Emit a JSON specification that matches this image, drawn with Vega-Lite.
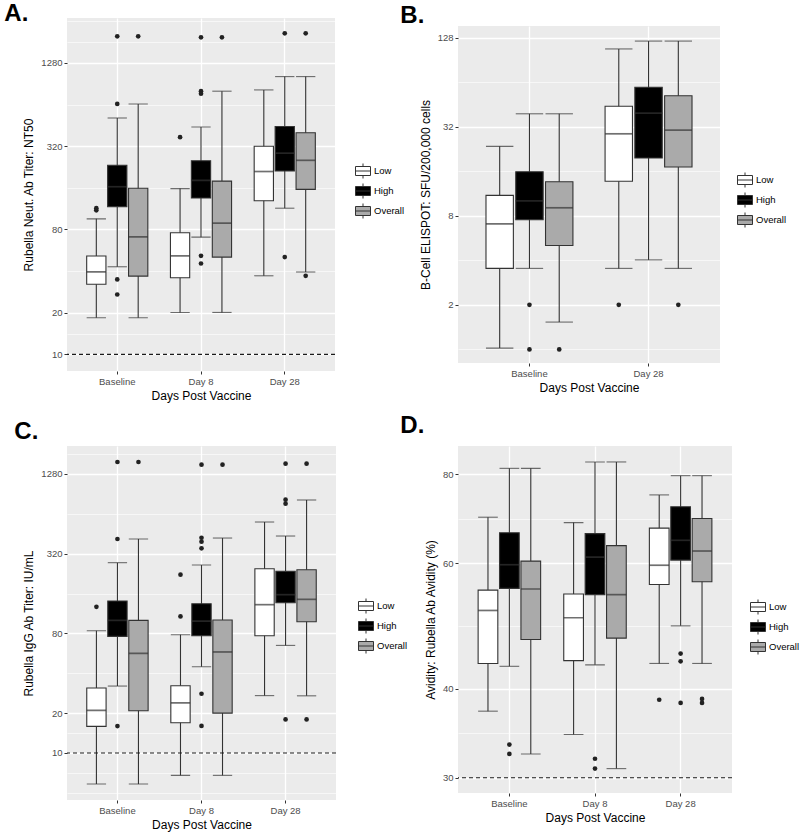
{
  "$schema": "https://vega.github.io/schema/vega-lite/v6.json",
  "background": "white",
  "padding": {"left": 4, "top": 2, "right": 5, "bottom": 3},
  "columns": 2,
  "bounds": "flush",
  "center": {"row": true, "column": false},
  "spacing": {"row": 75, "column": 122},
  "resolve": {
    "scale": {"fill": "independent", "y": "independent", "x": "independent", "xOffset": "independent"},
    "legend": {"fill": "independent"}
  },
  "datasets": {
    "aBox": [
      {"time": "Baseline", "group": "Low", "lo": 18.4, "q1": 32.1, "med": 39.5, "q3": 51.4, "hi": 95.5},
      {"time": "Baseline", "group": "High", "lo": 43, "q1": 117, "med": 163, "q3": 233, "hi": 512},
      {"time": "Baseline", "group": "Overall", "lo": 18.4, "q1": 36.8, "med": 70.8, "q3": 159, "hi": 647},
      {"time": "Day 8", "group": "Low", "lo": 20.1, "q1": 35.8, "med": 51.6, "q3": 75.7, "hi": 158},
      {"time": "Day 8", "group": "High", "lo": 70.4, "q1": 135, "med": 181, "q3": 251, "hi": 441},
      {"time": "Day 8", "group": "Overall", "lo": 20.1, "q1": 50.5, "med": 88.9, "q3": 179, "hi": 800},
      {"time": "Day 28", "group": "Low", "lo": 37, "q1": 129, "med": 210, "q3": 320, "hi": 817},
      {"time": "Day 28", "group": "High", "lo": 114, "q1": 212, "med": 285, "q3": 444, "hi": 1020},
      {"time": "Day 28", "group": "Overall", "lo": 39.4, "q1": 156, "med": 253, "q3": 400, "hi": 1020}
    ],
    "aOut": [
      {"time": "Baseline", "group": "Low", "v": 114},
      {"time": "Baseline", "group": "Low", "v": 110},
      {"time": "Baseline", "group": "High", "v": 1995},
      {"time": "Baseline", "group": "High", "v": 647},
      {"time": "Baseline", "group": "High", "v": 34.8},
      {"time": "Baseline", "group": "High", "v": 27.1},
      {"time": "Baseline", "group": "Overall", "v": 1995},
      {"time": "Day 8", "group": "Low", "v": 372},
      {"time": "Day 8", "group": "High", "v": 1961},
      {"time": "Day 8", "group": "High", "v": 800},
      {"time": "Day 8", "group": "High", "v": 768},
      {"time": "Day 8", "group": "High", "v": 51.6},
      {"time": "Day 8", "group": "High", "v": 45.4},
      {"time": "Day 8", "group": "Overall", "v": 1961},
      {"time": "Day 28", "group": "High", "v": 2097},
      {"time": "Day 28", "group": "High", "v": 50.5},
      {"time": "Day 28", "group": "Overall", "v": 2097},
      {"time": "Day 28", "group": "Overall", "v": 37}
    ],
    "bBox": [
      {"time": "Baseline", "group": "Low", "lo": 1.02, "q1": 3.53, "med": 7.07, "q3": 11.0, "hi": 23.6},
      {"time": "Baseline", "group": "High", "lo": 3.53, "q1": 7.52, "med": 10.1, "q3": 15.9, "hi": 39.2},
      {"time": "Baseline", "group": "Overall", "lo": 1.53, "q1": 5.04, "med": 9.07, "q3": 13.6, "hi": 39.2},
      {"time": "Day 28", "group": "Low", "lo": 3.53, "q1": 13.7, "med": 28.7, "q3": 44.1, "hi": 107.6},
      {"time": "Day 28", "group": "High", "lo": 4.03, "q1": 19.7, "med": 39.6, "q3": 59.3, "hi": 121.6},
      {"time": "Day 28", "group": "Overall", "lo": 3.53, "q1": 17.1, "med": 30.4, "q3": 51.9, "hi": 121.6}
    ],
    "bOut": [
      {"time": "Baseline", "group": "High", "v": 2},
      {"time": "Baseline", "group": "High", "v": 1},
      {"time": "Baseline", "group": "Overall", "v": 1},
      {"time": "Day 28", "group": "Low", "v": 2},
      {"time": "Day 28", "group": "Overall", "v": 2}
    ],
    "cBox": [
      {"time": "Baseline", "group": "Low", "lo": 5.82, "q1": 15.86, "med": 20.95, "q3": 30.9, "hi": 83.8},
      {"time": "Baseline", "group": "High", "lo": 32, "q1": 75.9, "med": 100.3, "q3": 140.5, "hi": 273.6},
      {"time": "Baseline", "group": "Overall", "lo": 5.82, "q1": 20.8, "med": 56.5, "q3": 100.3, "hi": 413},
      {"time": "Day 8", "group": "Low", "lo": 6.77, "q1": 16.9, "med": 23.9, "q3": 32.2, "hi": 78.2},
      {"time": "Day 8", "group": "High", "lo": 44.8, "q1": 76.8, "med": 99, "q3": 134, "hi": 262.6},
      {"time": "Day 8", "group": "Overall", "lo": 6.77, "q1": 20.0, "med": 57.9, "q3": 101, "hi": 420},
      {"time": "Day 28", "group": "Low", "lo": 27.1, "q1": 76.8, "med": 131.8, "q3": 246.4, "hi": 555},
      {"time": "Day 28", "group": "High", "lo": 64.9, "q1": 136.4, "med": 156.8, "q3": 235.3, "hi": 435},
      {"time": "Day 28", "group": "Overall", "lo": 27, "q1": 98, "med": 144.6, "q3": 242, "hi": 814}
    ],
    "cOut": [
      {"time": "Baseline", "group": "Low", "v": 127},
      {"time": "Baseline", "group": "High", "v": 1577},
      {"time": "Baseline", "group": "High", "v": 413},
      {"time": "Baseline", "group": "High", "v": 15.96},
      {"time": "Baseline", "group": "Overall", "v": 1577},
      {"time": "Day 8", "group": "Low", "v": 222},
      {"time": "Day 8", "group": "Low", "v": 107.5},
      {"time": "Day 8", "group": "High", "v": 1505},
      {"time": "Day 8", "group": "High", "v": 422},
      {"time": "Day 8", "group": "High", "v": 394},
      {"time": "Day 8", "group": "High", "v": 351},
      {"time": "Day 8", "group": "High", "v": 28},
      {"time": "Day 8", "group": "High", "v": 16},
      {"time": "Day 8", "group": "Overall", "v": 1505},
      {"time": "Day 28", "group": "High", "v": 1532},
      {"time": "Day 28", "group": "High", "v": 819},
      {"time": "Day 28", "group": "High", "v": 764},
      {"time": "Day 28", "group": "High", "v": 17.9},
      {"time": "Day 28", "group": "Overall", "v": 1532},
      {"time": "Day 28", "group": "Overall", "v": 17.9}
    ],
    "dBox": [
      {"time": "Baseline", "group": "Low", "lo": 37.2, "q1": 43.4, "med": 51.5, "q3": 55.0, "hi": 69.6},
      {"time": "Baseline", "group": "High", "lo": 43.0, "q1": 55.3, "med": 59.7, "q3": 66.2, "hi": 81.5},
      {"time": "Baseline", "group": "Overall", "lo": 32.4, "q1": 46.9, "med": 55.2, "q3": 60.4, "hi": 81.5},
      {"time": "Day 8", "group": "Low", "lo": 34.5, "q1": 43.8, "med": 50.3, "q3": 54.3, "hi": 68.4},
      {"time": "Day 8", "group": "High", "lo": 43.2, "q1": 54.2, "med": 61.2, "q3": 66.0, "hi": 83.2},
      {"time": "Day 8", "group": "Overall", "lo": 30.9, "q1": 47.1, "med": 54.2, "q3": 63.5, "hi": 83.2},
      {"time": "Day 28", "group": "Low", "lo": 43.4, "q1": 56.0, "med": 59.6, "q3": 67.2, "hi": 74.8},
      {"time": "Day 28", "group": "High", "lo": 49.0, "q1": 60.6, "med": 64.6, "q3": 72.0, "hi": 79.6},
      {"time": "Day 28", "group": "Overall", "lo": 43.4, "q1": 56.5, "med": 62.4, "q3": 69.3, "hi": 79.6}
    ],
    "dOut": [
      {"time": "Baseline", "group": "High", "v": 33.4},
      {"time": "Baseline", "group": "High", "v": 32.4},
      {"time": "Day 8", "group": "High", "v": 31.9},
      {"time": "Day 8", "group": "High", "v": 30.9},
      {"time": "Day 28", "group": "Low", "v": 38.6},
      {"time": "Day 28", "group": "High", "v": 44.8},
      {"time": "Day 28", "group": "High", "v": 43.7},
      {"time": "Day 28", "group": "High", "v": 38.2},
      {"time": "Day 28", "group": "Overall", "v": 38.7},
      {"time": "Day 28", "group": "Overall", "v": 38.2}
    ],
    "ref10": [{"ref": 10}],
    "ref30": [{"ref": 30}]
  },
  "concat": [
    {
      "width": 268, "height": 353,
      "title": {"text": "A.", "dx": -62.7, "dy": 13.7},
      "layer": [
        {"data": {"name": "aBox"}, "mark": {"type": "rule", "color": "#333333", "strokeWidth": 1.1},
         "encoding": {
           "x": {"field": "time", "type": "nominal", "sort": ["Baseline", "Day 8", "Day 28"], "scale": {"paddingInner": 0, "paddingOuter": 0.1},
                 "axis": {"title": "Days Post Vaccine", "labelAngle": 0, "bandPosition": 0.5, "grid": true, "gridWidth": 1.3, "gridColor": "white", "ticks": true}},
           "xOffset": {"field": "group", "type": "nominal", "sort": ["Low", "High", "Overall"], "scale": {"paddingInner": 0.08, "paddingOuter": 0.54}},
           "y": {"field": "lo", "type": "quantitative", "scale": {"type": "log", "base": 2, "domain": [7.58, 2706], "nice": false, "zero": false},
                 "axis": {"title": "Rubella Neut. Ab Titer: NT50", "values": [10, 14.142, 20, 40, 80, 160, 320, 640, 1280, 1810.2, 2560],
                          "labelExpr": "indexof([10,20,80,320,1280], datum.value) >= 0 ? format(datum.value, 'd') : ''",
                          "gridWidth": {"condition": {"test": "indexof([10,20,80,320,1280], datum.value) >= 0", "value": 1.3}, "value": 0.6},
                          "tickOpacity": {"condition": {"test": "indexof([10,20,80,320,1280], datum.value) >= 0", "value": 1}, "value": 0}}},
           "y2": {"field": "hi"}
         }},
        {"data": {"name": "aBox"}, "mark": {"type": "tick", "color": "#333333", "thickness": 1.1, "size": 19.3},
         "encoding": {
           "x": {"field": "time", "type": "nominal", "sort": ["Baseline", "Day 8", "Day 28"]},
           "xOffset": {"field": "group", "type": "nominal", "sort": ["Low", "High", "Overall"]},
           "y": {"field": "lo", "type": "quantitative", "scale": {"type": "log", "base": 2, "domain": [7.58, 2706], "nice": false, "zero": false}}
         }},
        {"data": {"name": "aBox"}, "mark": {"type": "tick", "color": "#333333", "thickness": 1.1, "size": 19.3},
         "encoding": {
           "x": {"field": "time", "type": "nominal", "sort": ["Baseline", "Day 8", "Day 28"]},
           "xOffset": {"field": "group", "type": "nominal", "sort": ["Low", "High", "Overall"]},
           "y": {"field": "hi", "type": "quantitative", "scale": {"type": "log", "base": 2, "domain": [7.58, 2706], "nice": false, "zero": false}}
         }},
        {"data": {"name": "aBox"}, "mark": {"type": "bar", "stroke": "#333333", "strokeWidth": 1.1},
         "encoding": {
           "x": {"field": "time", "type": "nominal", "sort": ["Baseline", "Day 8", "Day 28"]},
           "xOffset": {"field": "group", "type": "nominal", "sort": ["Low", "High", "Overall"]},
           "y": {"field": "q1", "type": "quantitative", "scale": {"type": "log", "base": 2, "domain": [7.58, 2706], "nice": false, "zero": false}},
           "y2": {"field": "q3"},
           "fill": {"field": "group", "type": "nominal", "scale": {"domain": ["Low", "High", "Overall"], "range": ["#FFFFFF", "#000000", "#AAAAAA"]},
                    "legend": {"orient": "none", "legendX": 288, "legendY": 145}}
         }},
        {"data": {"name": "aBox"}, "mark": {"type": "tick", "color": "#333333", "thickness": 1.7, "size": 19.3},
         "encoding": {
           "x": {"field": "time", "type": "nominal", "sort": ["Baseline", "Day 8", "Day 28"]},
           "xOffset": {"field": "group", "type": "nominal", "sort": ["Low", "High", "Overall"]},
           "y": {"field": "med", "type": "quantitative", "scale": {"type": "log", "base": 2, "domain": [7.58, 2706], "nice": false, "zero": false}}
         }},
        {"data": {"name": "aOut"}, "mark": {"type": "point", "filled": true, "color": "#222222", "size": 22, "opacity": 1},
         "encoding": {
           "x": {"field": "time", "type": "nominal", "sort": ["Baseline", "Day 8", "Day 28"]},
           "xOffset": {"field": "group", "type": "nominal", "sort": ["Low", "High", "Overall"]},
           "y": {"field": "v", "type": "quantitative", "scale": {"type": "log", "base": 2, "domain": [7.58, 2706], "nice": false, "zero": false}}
         }},
        {"data": {"name": "ref10"}, "mark": {"type": "rule", "color": "#1A1A1A", "strokeWidth": 1.1, "strokeDash": [4, 3]},
         "encoding": {
           "y": {"field": "ref", "type": "quantitative", "scale": {"type": "log", "base": 2, "domain": [7.58, 2706], "nice": false, "zero": false}}
         }}
      ]
    },
    {
      "width": 262, "height": 337,
      "title": {"text": "B.", "dx": -57.7, "dy": 5.7},
      "layer": [
        {"data": {"name": "bBox"}, "mark": {"type": "rule", "color": "#333333", "strokeWidth": 1.1},
         "encoding": {
           "x": {"field": "time", "type": "nominal", "sort": ["Baseline", "Day 28"], "scale": {"paddingInner": 0, "paddingOuter": 0.1},
                 "axis": {"title": "Days Post Vaccine", "labelAngle": 0, "bandPosition": 0.5, "grid": true, "gridWidth": 1.3, "gridColor": "white", "ticks": true}},
           "xOffset": {"field": "group", "type": "nominal", "sort": ["Low", "High", "Overall"], "scale": {"paddingInner": 0.08, "paddingOuter": 0.54}},
           "y": {"field": "lo", "type": "quantitative", "scale": {"type": "log", "base": 2, "domain": [0.809, 153.8], "nice": false, "zero": false},
                 "axis": {"title": "B-Cell ELISPOT: SFU/200,000 cells", "values": [1, 2, 4, 8, 16, 32, 64, 128],
                          "labelExpr": "indexof([2,8,32,128], datum.value) >= 0 ? format(datum.value, 'd') : ''",
                          "gridWidth": {"condition": {"test": "indexof([2,8,32,128], datum.value) >= 0", "value": 1.3}, "value": 0.6},
                          "tickOpacity": {"condition": {"test": "indexof([2,8,32,128], datum.value) >= 0", "value": 1}, "value": 0}}},
           "y2": {"field": "hi"}
         }},
        {"data": {"name": "bBox"}, "mark": {"type": "tick", "color": "#333333", "thickness": 1.1, "size": 27.4},
         "encoding": {
           "x": {"field": "time", "type": "nominal", "sort": ["Baseline", "Day 28"]},
           "xOffset": {"field": "group", "type": "nominal", "sort": ["Low", "High", "Overall"]},
           "y": {"field": "lo", "type": "quantitative", "scale": {"type": "log", "base": 2, "domain": [0.809, 153.8], "nice": false, "zero": false}}
         }},
        {"data": {"name": "bBox"}, "mark": {"type": "tick", "color": "#333333", "thickness": 1.1, "size": 27.4},
         "encoding": {
           "x": {"field": "time", "type": "nominal", "sort": ["Baseline", "Day 28"]},
           "xOffset": {"field": "group", "type": "nominal", "sort": ["Low", "High", "Overall"]},
           "y": {"field": "hi", "type": "quantitative", "scale": {"type": "log", "base": 2, "domain": [0.809, 153.8], "nice": false, "zero": false}}
         }},
        {"data": {"name": "bBox"}, "mark": {"type": "bar", "stroke": "#333333", "strokeWidth": 1.1},
         "encoding": {
           "x": {"field": "time", "type": "nominal", "sort": ["Baseline", "Day 28"]},
           "xOffset": {"field": "group", "type": "nominal", "sort": ["Low", "High", "Overall"]},
           "y": {"field": "q1", "type": "quantitative", "scale": {"type": "log", "base": 2, "domain": [0.809, 153.8], "nice": false, "zero": false}},
           "y2": {"field": "q3"},
           "fill": {"field": "group", "type": "nominal", "scale": {"domain": ["Low", "High", "Overall"], "range": ["#FFFFFF", "#000000", "#AAAAAA"]},
                    "legend": {"orient": "none", "legendX": 279, "legendY": 146}}
         }},
        {"data": {"name": "bBox"}, "mark": {"type": "tick", "color": "#333333", "thickness": 1.7, "size": 27.4},
         "encoding": {
           "x": {"field": "time", "type": "nominal", "sort": ["Baseline", "Day 28"]},
           "xOffset": {"field": "group", "type": "nominal", "sort": ["Low", "High", "Overall"]},
           "y": {"field": "med", "type": "quantitative", "scale": {"type": "log", "base": 2, "domain": [0.809, 153.8], "nice": false, "zero": false}}
         }},
        {"data": {"name": "bOut"}, "mark": {"type": "point", "filled": true, "color": "#222222", "size": 22, "opacity": 1},
         "encoding": {
           "x": {"field": "time", "type": "nominal", "sort": ["Baseline", "Day 28"]},
           "xOffset": {"field": "group", "type": "nominal", "sort": ["Low", "High", "Overall"]},
           "y": {"field": "v", "type": "quantitative", "scale": {"type": "log", "base": 2, "domain": [0.809, 153.8], "nice": false, "zero": false}}
         }}
      ]
    },
    {
      "width": 269, "height": 354,
      "title": {"text": "C.", "dx": -52.7, "dy": 1.6},
      "layer": [
        {"data": {"name": "cBox"}, "mark": {"type": "rule", "color": "#333333", "strokeWidth": 1.1},
         "encoding": {
           "x": {"field": "time", "type": "nominal", "sort": ["Baseline", "Day 8", "Day 28"], "scale": {"paddingInner": 0, "paddingOuter": 0.1},
                 "axis": {"title": "Days Post Vaccine", "labelAngle": 0, "bandPosition": 0.5, "grid": true, "gridWidth": 1.3, "gridColor": "white", "ticks": true}},
           "xOffset": {"field": "group", "type": "nominal", "sort": ["Low", "High", "Overall"], "scale": {"paddingInner": 0.08, "paddingOuter": 0.54}},
           "y": {"field": "lo", "type": "quantitative", "scale": {"type": "log", "base": 2, "domain": [4.41, 2082], "nice": false, "zero": false},
                 "axis": {"title": "Rubella IgG Ab Titer: IU/mL", "values": [5, 7.071, 10, 14.142, 20, 40, 80, 160, 320, 640, 1280, 1810.2],
                          "labelExpr": "indexof([10,20,80,320,1280], datum.value) >= 0 ? format(datum.value, 'd') : ''",
                          "gridWidth": {"condition": {"test": "indexof([10,20,80,320,1280], datum.value) >= 0", "value": 1.3}, "value": 0.6},
                          "tickOpacity": {"condition": {"test": "indexof([10,20,80,320,1280], datum.value) >= 0", "value": 1}, "value": 0}}},
           "y2": {"field": "hi"}
         }},
        {"data": {"name": "cBox"}, "mark": {"type": "tick", "color": "#333333", "thickness": 1.1, "size": 19.3},
         "encoding": {
           "x": {"field": "time", "type": "nominal", "sort": ["Baseline", "Day 8", "Day 28"]},
           "xOffset": {"field": "group", "type": "nominal", "sort": ["Low", "High", "Overall"]},
           "y": {"field": "lo", "type": "quantitative", "scale": {"type": "log", "base": 2, "domain": [4.41, 2082], "nice": false, "zero": false}}
         }},
        {"data": {"name": "cBox"}, "mark": {"type": "tick", "color": "#333333", "thickness": 1.1, "size": 19.3},
         "encoding": {
           "x": {"field": "time", "type": "nominal", "sort": ["Baseline", "Day 8", "Day 28"]},
           "xOffset": {"field": "group", "type": "nominal", "sort": ["Low", "High", "Overall"]},
           "y": {"field": "hi", "type": "quantitative", "scale": {"type": "log", "base": 2, "domain": [4.41, 2082], "nice": false, "zero": false}}
         }},
        {"data": {"name": "cBox"}, "mark": {"type": "bar", "stroke": "#333333", "strokeWidth": 1.1},
         "encoding": {
           "x": {"field": "time", "type": "nominal", "sort": ["Baseline", "Day 8", "Day 28"]},
           "xOffset": {"field": "group", "type": "nominal", "sort": ["Low", "High", "Overall"]},
           "y": {"field": "q1", "type": "quantitative", "scale": {"type": "log", "base": 2, "domain": [4.41, 2082], "nice": false, "zero": false}},
           "y2": {"field": "q3"},
           "fill": {"field": "group", "type": "nominal", "scale": {"domain": ["Low", "High", "Overall"], "range": ["#FFFFFF", "#000000", "#AAAAAA"]},
                    "legend": {"orient": "none", "legendX": 291, "legendY": 152}}
         }},
        {"data": {"name": "cBox"}, "mark": {"type": "tick", "color": "#333333", "thickness": 1.7, "size": 19.3},
         "encoding": {
           "x": {"field": "time", "type": "nominal", "sort": ["Baseline", "Day 8", "Day 28"]},
           "xOffset": {"field": "group", "type": "nominal", "sort": ["Low", "High", "Overall"]},
           "y": {"field": "med", "type": "quantitative", "scale": {"type": "log", "base": 2, "domain": [4.41, 2082], "nice": false, "zero": false}}
         }},
        {"data": {"name": "cOut"}, "mark": {"type": "point", "filled": true, "color": "#222222", "size": 22, "opacity": 1},
         "encoding": {
           "x": {"field": "time", "type": "nominal", "sort": ["Baseline", "Day 8", "Day 28"]},
           "xOffset": {"field": "group", "type": "nominal", "sort": ["Low", "High", "Overall"]},
           "y": {"field": "v", "type": "quantitative", "scale": {"type": "log", "base": 2, "domain": [4.41, 2082], "nice": false, "zero": false}}
         }},
        {"data": {"name": "ref10"}, "mark": {"type": "rule", "color": "#1A1A1A", "strokeWidth": 1.1, "strokeDash": [4, 3]},
         "encoding": {
           "y": {"field": "ref", "type": "quantitative", "scale": {"type": "log", "base": 2, "domain": [4.41, 2082], "nice": false, "zero": false}}
         }}
      ]
    },
    {
      "width": 274, "height": 347,
      "title": {"text": "D.", "dx": -57.7, "dy": -4.5},
      "layer": [
        {"data": {"name": "dBox"}, "mark": {"type": "rule", "color": "#333333", "strokeWidth": 1.1},
         "encoding": {
           "x": {"field": "time", "type": "nominal", "sort": ["Baseline", "Day 8", "Day 28"], "scale": {"paddingInner": 0, "paddingOuter": 0.1},
                 "axis": {"title": "Days Post Vaccine", "labelAngle": 0, "bandPosition": 0.5, "grid": true, "gridWidth": 1.3, "gridColor": "white", "ticks": true}},
           "xOffset": {"field": "group", "type": "nominal", "sort": ["Low", "High", "Overall"], "scale": {"paddingInner": 0.08, "paddingOuter": 0.54}},
           "y": {"field": "lo", "type": "quantitative", "scale": {"type": "log", "base": 10, "domain": [28.56, 87.6], "nice": false, "zero": false},
                 "axis": {"title": "Avidity: Rubella Ab Avidity (%)", "values": [30, 34.64, 40, 48.99, 60, 69.28, 80],
                          "labelExpr": "indexof([30,40,60,80], datum.value) >= 0 ? format(datum.value, 'd') : ''",
                          "gridWidth": {"condition": {"test": "indexof([30,40,60,80], datum.value) >= 0", "value": 1.3}, "value": 0.6},
                          "tickOpacity": {"condition": {"test": "indexof([30,40,60,80], datum.value) >= 0", "value": 1}, "value": 0}}},
           "y2": {"field": "hi"}
         }},
        {"data": {"name": "dBox"}, "mark": {"type": "tick", "color": "#333333", "thickness": 1.1, "size": 19.7},
         "encoding": {
           "x": {"field": "time", "type": "nominal", "sort": ["Baseline", "Day 8", "Day 28"]},
           "xOffset": {"field": "group", "type": "nominal", "sort": ["Low", "High", "Overall"]},
           "y": {"field": "lo", "type": "quantitative", "scale": {"type": "log", "base": 10, "domain": [28.56, 87.6], "nice": false, "zero": false}}
         }},
        {"data": {"name": "dBox"}, "mark": {"type": "tick", "color": "#333333", "thickness": 1.1, "size": 19.7},
         "encoding": {
           "x": {"field": "time", "type": "nominal", "sort": ["Baseline", "Day 8", "Day 28"]},
           "xOffset": {"field": "group", "type": "nominal", "sort": ["Low", "High", "Overall"]},
           "y": {"field": "hi", "type": "quantitative", "scale": {"type": "log", "base": 10, "domain": [28.56, 87.6], "nice": false, "zero": false}}
         }},
        {"data": {"name": "dBox"}, "mark": {"type": "bar", "stroke": "#333333", "strokeWidth": 1.1},
         "encoding": {
           "x": {"field": "time", "type": "nominal", "sort": ["Baseline", "Day 8", "Day 28"]},
           "xOffset": {"field": "group", "type": "nominal", "sort": ["Low", "High", "Overall"]},
           "y": {"field": "q1", "type": "quantitative", "scale": {"type": "log", "base": 10, "domain": [28.56, 87.6], "nice": false, "zero": false}},
           "y2": {"field": "q3"},
           "fill": {"field": "group", "type": "nominal", "scale": {"domain": ["Low", "High", "Overall"], "range": ["#FFFFFF", "#000000", "#AAAAAA"]},
                    "legend": {"orient": "none", "legendX": 292, "legendY": 153}}
         }},
        {"data": {"name": "dBox"}, "mark": {"type": "tick", "color": "#333333", "thickness": 1.7, "size": 19.7},
         "encoding": {
           "x": {"field": "time", "type": "nominal", "sort": ["Baseline", "Day 8", "Day 28"]},
           "xOffset": {"field": "group", "type": "nominal", "sort": ["Low", "High", "Overall"]},
           "y": {"field": "med", "type": "quantitative", "scale": {"type": "log", "base": 10, "domain": [28.56, 87.6], "nice": false, "zero": false}}
         }},
        {"data": {"name": "dOut"}, "mark": {"type": "point", "filled": true, "color": "#222222", "size": 22, "opacity": 1},
         "encoding": {
           "x": {"field": "time", "type": "nominal", "sort": ["Baseline", "Day 8", "Day 28"]},
           "xOffset": {"field": "group", "type": "nominal", "sort": ["Low", "High", "Overall"]},
           "y": {"field": "v", "type": "quantitative", "scale": {"type": "log", "base": 10, "domain": [28.56, 87.6], "nice": false, "zero": false}}
         }},
        {"data": {"name": "ref30"}, "mark": {"type": "rule", "color": "#1A1A1A", "strokeWidth": 1.1, "strokeDash": [4, 3]},
         "encoding": {
           "y": {"field": "ref", "type": "quantitative", "scale": {"type": "log", "base": 10, "domain": [28.56, 87.6], "nice": false, "zero": false}}
         }}
      ]
    }
  ],
  "config": {
    "font": "Liberation Sans",
    "view": {"fill": "#EBEBEB", "stroke": null},
    "axis": {"domain": false, "tickSize": 3, "tickColor": "#333333", "tickWidth": 1, "labelFontSize": 9.5, "labelColor": "#4D4D4D", "labelPadding": 2,
             "titleFontSize": 12, "titleFontWeight": "normal", "titleColor": "black", "gridColor": "white", "labelOverlap": false},
    "axisX": {"titlePadding": 5},
    "axisY": {"titlePadding": 5},
    "legend": {"title": null, "symbolType": "M-1,-0.6H1V0.6H-1Z M-1,0H1 M0,-0.6V-1 M0,0.6V1", "symbolSize": 225, "symbolStrokeColor": "#333333",
               "symbolStrokeWidth": 1, "labelFontSize": 9.5, "labelColor": "black", "labelOffset": 3, "rowPadding": 0, "padding": 0},
    "title": {"fontSize": 24, "font": "Liberation Sans", "fontWeight": "bold", "anchor": "start", "frame": "group", "offset": 0, "baseline": "alphabetic", "color": "black"}
  }
}
